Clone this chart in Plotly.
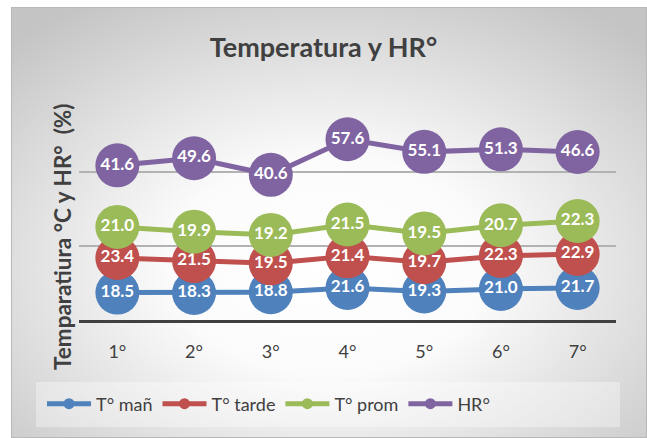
import base64

import plotly.graph_objects as go

# Daily readings, Excel-style stacked line chart
dias = ["1°", "2°", "3°", "4°", "5°", "6°", "7°"]
t_man = [18.5, 18.3, 18.8, 21.6, 19.3, 21.0, 21.7]
t_tarde = [23.4, 21.5, 19.5, 21.4, 19.7, 22.3, 22.9]
t_prom = [21.0, 19.9, 19.2, 21.5, 19.5, 20.7, 22.3]
hr = [41.6, 49.6, 40.6, 57.6, 55.1, 51.3, 46.6]

series = [
    ("T° mañ", t_man, "#4F81BD"),
    ("T° tarde", t_tarde, "#C0504D"),
    ("T° prom", t_prom, "#9BBB59"),
    ("HR°", hr, "#8064A2"),
]

FONT = "Lato, 'Open Sans', sans-serif"
TEXT = "#404040"

# radial grey gradient behind the whole chart, like the Office preset
_svg = (
    '<svg xmlns="http://www.w3.org/2000/svg" width="636" height="431" preserveAspectRatio="none">'
    '<defs><radialGradient id="g" cx="0.5" cy="0.6" r="0.72">'
    '<stop offset="0" stop-color="#ffffff"/><stop offset="0.35" stop-color="#fbfbfb"/>'
    '<stop offset="1" stop-color="#c4c4c4"/></radialGradient></defs>'
    '<rect x="0" y="0" width="636" height="431" fill="url(#g)" stroke="#b8b8b8" stroke-width="2"/>'
    "</svg>"
)
bg_src = "data:image/svg+xml;base64," + base64.b64encode(_svg.encode()).decode()

fig = go.Figure()
for name, vals, color in series:
    fig.add_trace(
        go.Scatter(
            x=dias,
            y=vals,
            name=name,
            stackgroup="t",
            fill="none",
            mode="lines+markers+text",
            line=dict(color=color, width=5),
            marker=dict(color=color, size=44),
            text=[f"{v:.1f}" for v in vals],
            textposition="middle center",
            textfont=dict(family=FONT, size=17, color="white", weight="bold"),
            showlegend=False,
            hoverinfo="skip",
        )
    )
# legend entries with small dots
for name, vals, color in series:
    fig.add_trace(
        go.Scatter(
            x=[None],
            y=[None],
            name=name,
            mode="lines+markers",
            line=dict(color=color, width=5),
            marker=dict(color=color, size=11),
        )
    )

PX_L, PX_R, PX_T, PX_B = 79, 616, 98, 320
pw, ph = PX_R - PX_L, PX_B - PX_T


def px(x):
    return (x - PX_L) / pw


def py(y):
    return (PX_B - y) / ph


fig.update_layout(
    width=647,
    height=438,
    margin=dict(l=PX_L, r=647 - PX_R, t=PX_T, b=438 - PX_B, autoexpand=False),
    paper_bgcolor="white",
    plot_bgcolor="rgba(0,0,0,0)",
    font=dict(family=FONT, color=TEXT),
    title=dict(
        text="<b>Temperatura y HR°</b>",
        x=0.5,
        xanchor="center",
        y=1 - 48 / 438,
        yanchor="middle",
        font=dict(size=27, color=TEXT),
    ),
    images=[
        dict(
            source=bg_src,
            xref="paper",
            yref="paper",
            x=px(11),
            y=py(7),
            sizex=px(647) - px(11),
            sizey=py(7) - py(438),
            xanchor="left",
            yanchor="top",
            sizing="stretch",
            layer="below",
        )
    ],
    shapes=[
        dict(
            type="rect",
            xref="paper",
            yref="paper",
            x0=px(36),
            x1=px(620),
            y0=py(427),
            y1=py(382),
            fillcolor="rgba(255,255,255,0.35)",
            line=dict(width=0),
            layer="below",
        )
    ],
    annotations=[
        dict(
            text="<b>Temparatiura °C y HR°\u00a0\u00a0(%)</b>",
            textangle=-90,
            xref="paper",
            yref="paper",
            x=px(62),
            y=py(237),
            xanchor="center",
            yanchor="middle",
            showarrow=False,
            font=dict(size=22.5, color=TEXT),
        )
    ],
    legend=dict(
        orientation="h",
        x=px(42),
        xanchor="left",
        y=py(404),
        yanchor="middle",
        bgcolor="rgba(0,0,0,0)",
        itemwidth=44,
        font=dict(size=18, color=TEXT),
        tracegroupgap=0,
    ),
)
fig.update_xaxes(
    range=[-0.5, 6.5],
    showgrid=False,
    showline=True,
    linecolor="#404040",
    linewidth=3,
    ticks="outside",
    ticklen=13,
    tickcolor="rgba(0,0,0,0)",
    tickfont=dict(size=18, color=TEXT),
)
fig.update_yaxes(
    range=[0, 150],
    dtick=50,
    showticklabels=False,
    showgrid=True,
    gridcolor="#b2b2b2",
    gridwidth=1.5,
    zeroline=False,
)

fig.write_html(
    "out.html",
    config={"displayModeBar": False},
    post_script="document.body.style.margin='0';",
)
